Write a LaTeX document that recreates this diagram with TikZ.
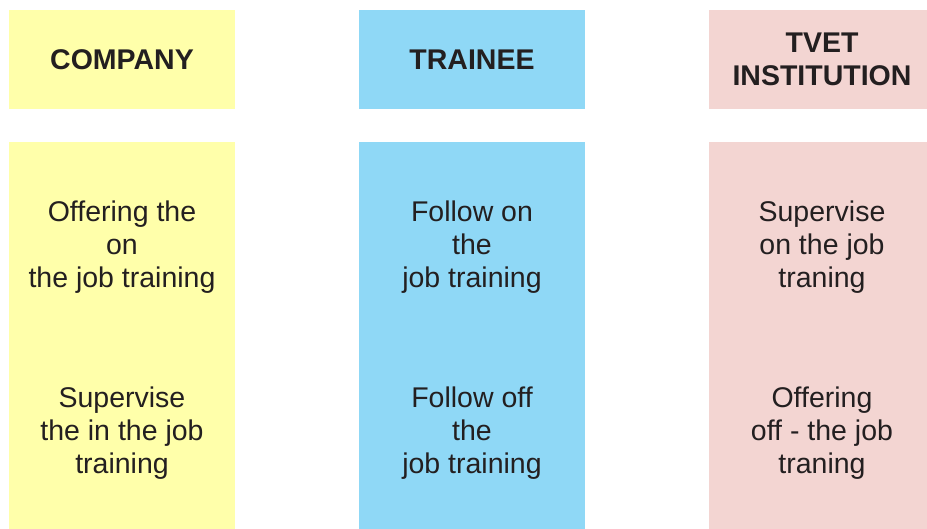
\documentclass[tikz,border=0pt]{standalone}
\usepackage{fontspec}
\setmainfont{Liberation Sans}
\usepackage{xcolor}
\usepackage{tikz}

\definecolor{companycol}{HTML}{FFFFAA}
\definecolor{traineecol}{HTML}{8FD8F6}
\definecolor{tvetcol}{HTML}{F3D5D2}
\definecolor{inkcol}{HTML}{231F20}

\tikzset{
    head/.style = {rectangle, inner sep=0pt, minimum width=226pt, minimum height=99pt,
        align=center, text=inkcol, font=\fontsize{28.5}{33}\selectfont\bfseries},
    column/.style = {rectangle, inner sep=0pt, minimum width=226pt, minimum height=387pt},
    duty/.style = {align=center, text=inkcol, font=\fontsize{28.5}{33}\selectfont}
}

\begin{document}
\begin{tikzpicture}[x=1pt, y=1pt]
        \useasboundingbox (0, 0) rectangle (927, -529);
        \clip (0, 0) rectangle (927, -529);
        % headers
        \node (company) at (122, -59.5) [head, fill = companycol] {COMPANY};
        \node (trainee) at (472, -59.5) [head, fill = traineecol] {TRAINEE};
        \node (tvet) at (822, -59.5) [head, fill = tvetcol] {TVET\\INSTITUTION};
        % columns below
        \node (company body) at (122, -335.5) [column, fill = companycol] {};
        \node (trainee body) at (472, -335.5) [column, fill = traineecol] {};
        \node (tvet body) at (822, -335.5) [column, fill = tvetcol] {};
        % what each side does
        \node (company on) at (122, -247) [duty] {Offering the\\on\\the job training};
        \node (company off) at (122, -433) [duty] {Supervise\\the in the job\\training};
        \node (trainee on) at (472, -247) [duty] {Follow on\\the\\job training};
        \node (trainee off) at (472, -433) [duty] {Follow off\\the\\job training};
        \node (tvet on) at (822, -247) [duty] {Supervise\\on the job\\traning};
        \node (tvet off) at (822, -433) [duty] {Offering\\off - the job\\traning};
    \end{tikzpicture}
\end{document}
